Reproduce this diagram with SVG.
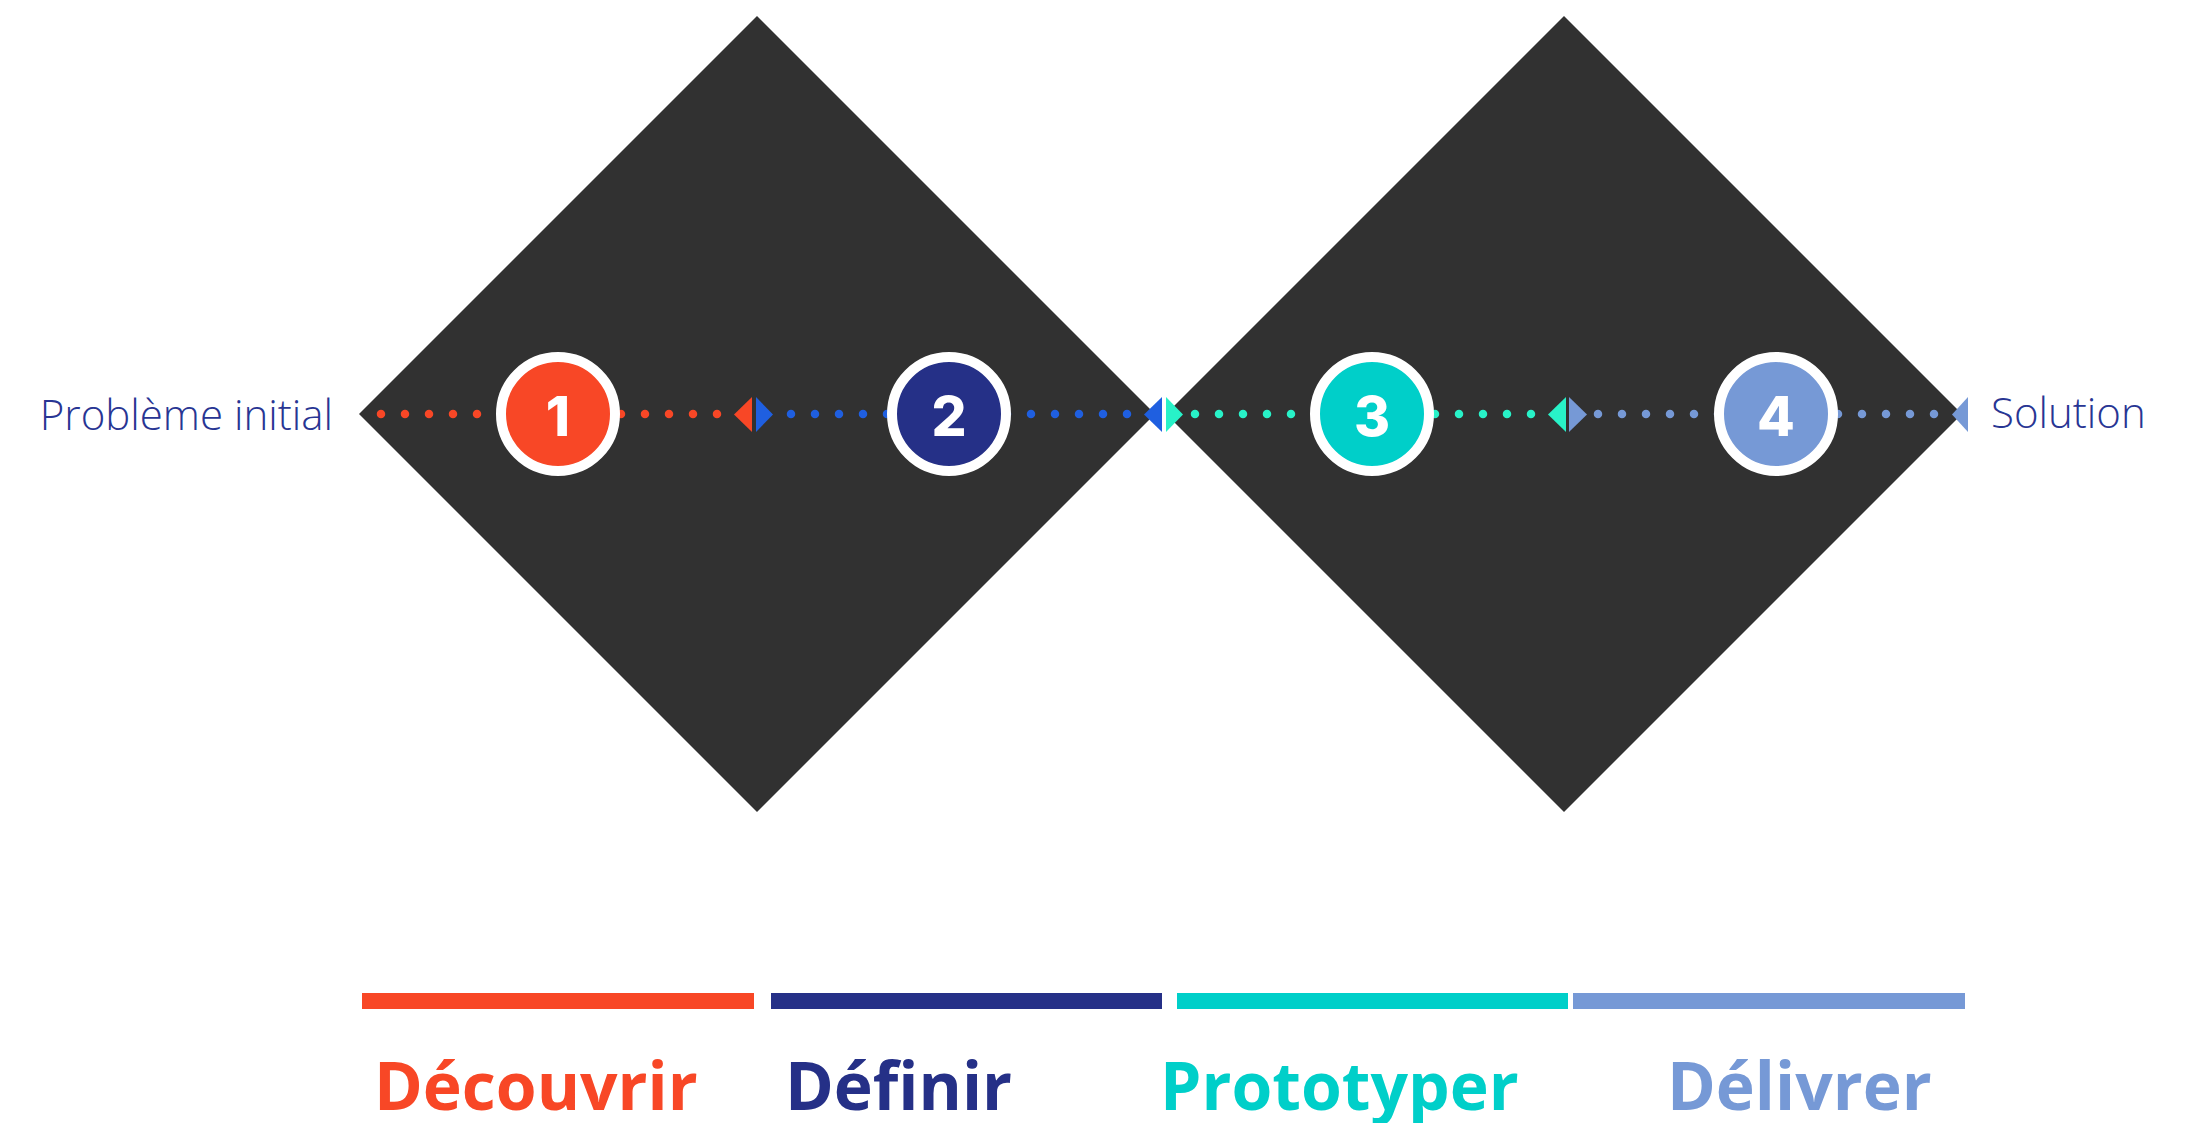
<svg xmlns="http://www.w3.org/2000/svg" width="2194" height="1123" viewBox="0 0 2194 1123">
<style>
.diamond{fill:#313131}
.ring{stroke:#ffffff;stroke-width:10}
.num{font-family:Inter,"Open Sans","DejaVu Sans",sans-serif;font-weight:800;font-size:55px;fill:#ffffff;text-anchor:middle}
.side{font-family:"Open Sans","DejaVu Sans",sans-serif;font-weight:300;font-size:42px;fill:#283593}
.phase{font-family:"Open Sans","DejaVu Sans",sans-serif;font-weight:700;font-size:66px}
.dots{fill:none;stroke-width:8.5;stroke-linecap:round;stroke-dasharray:0 24}
</style>
<rect width="2194" height="1123" fill="#ffffff"/>
<g id="diamond-1"><polygon class="diamond" points="757,16 1155,414 757,812 359,414"/></g>
<g id="diamond-2"><polygon class="diamond" points="1564,16 1962,414 1564,812 1166,414"/></g>
<g id="connectors">
<line class="dots" x1="381" y1="414" x2="718" y2="414" stroke="#F84726"/>
<line class="dots" x1="791" y1="414" x2="1128" y2="414" stroke="#1F5FE0"/>
<line class="dots" x1="1195" y1="414" x2="1532" y2="414" stroke="#28F2C8"/>
<line class="dots" x1="1598" y1="414" x2="1935" y2="414" stroke="#7699D6"/>
<polygon points="752,397 752,432 734,414.5" fill="#F84726"/>
<polygon points="756,397 756,432 773,414.5" fill="#1F5FE0"/>
<polygon points="1162,397 1162,432 1144,414.5" fill="#1F5FE0"/>
<polygon points="1166,397 1166,432 1183,414.5" fill="#28F2C8"/>
<polygon points="1566,397 1566,432 1548,414.5" fill="#28F2C8"/>
<polygon points="1569,397 1569,432 1587,414.5" fill="#7699D6"/>
<polygon points="1968,397 1968,432 1952,414.5" fill="#7699D6"/>
</g>
<g id="step-1"><circle class="ring" cx="558" cy="414" r="57" fill="#F84726"/><text class="num" x="558" y="436">1</text></g>
<g id="step-2"><circle class="ring" cx="949" cy="414" r="57" fill="#253087"/><text class="num" x="949" y="436">2</text></g>
<g id="step-3"><circle class="ring" cx="1372" cy="414" r="57" fill="#00CFC9"/><text class="num" x="1372" y="436">3</text></g>
<g id="step-4"><circle class="ring" cx="1776" cy="414" r="57" fill="#7699D6"/><text class="num" x="1776" y="436">4</text></g>
<g id="label-start"><text class="side" x="333" y="430" text-anchor="end">Problème initial</text></g>
<g id="label-end"><text class="side" x="1991" y="428">Solution</text></g>
<g id="phase-1"><rect x="362" y="993" width="392" height="16" fill="#F84726"/><text class="phase" x="374" y="1110" fill="#F84726">Découvrir</text></g>
<g id="phase-2"><rect x="771" y="993" width="391" height="16" fill="#253087"/><text class="phase" x="785" y="1110" fill="#253087">Définir</text></g>
<g id="phase-3"><rect x="1177" y="993" width="391" height="16" fill="#00CFC9"/><text class="phase" x="1160" y="1110" fill="#00CFC9">Prototyper</text></g>
<g id="phase-4"><rect x="1573" y="993" width="392" height="16" fill="#7699D6"/><text class="phase" x="1667" y="1110" fill="#7699D6">Délivrer</text></g>
</svg>
